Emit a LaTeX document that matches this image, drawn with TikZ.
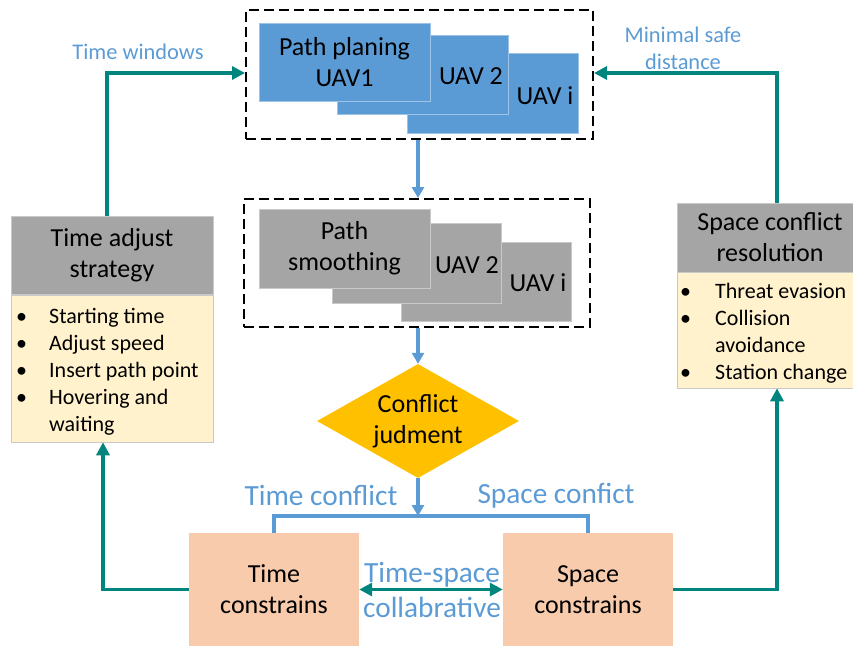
\documentclass[tikz,border=0pt]{standalone}
\usepackage{fontspec}
\setmainfont{Carlito}
\usetikzlibrary{shapes.geometric,calc,arrows.meta}
\definecolor{blueF}{HTML}{5B9BD5}
\definecolor{blueE}{HTML}{9DC3E6}
\definecolor{grayF}{HTML}{A5A5A5}
\definecolor{grayE}{HTML}{C9C9C9}
\definecolor{yellowF}{HTML}{FFF2CC}
\definecolor{peachF}{HTML}{F8CBAD}
\definecolor{goldF}{HTML}{FFC000}
\definecolor{tealC}{HTML}{00857E}
\definecolor{blueT}{HTML}{5B9BD5}
\begin{document}
\begin{tikzpicture}[x=1pt,y=-1pt,
  bluebox/.style={rectangle,fill=blueF,draw=blueE,line width=0.8pt,inner sep=0pt},
  graybox/.style={rectangle,fill=grayF,draw=grayE,line width=0.8pt,inner sep=0pt},
  yelbox/.style={rectangle,fill=yellowF,draw=grayE,line width=0.6pt,inner sep=0pt},
  peachbox/.style={rectangle,fill=peachF,draw=none,inner sep=0pt},
  dashbox/.style={rectangle,draw=black,line width=2pt,dash pattern=on 10pt off 5pt,inner sep=0pt},
  big/.style={font=\fontsize{26}{31}\selectfont,align=center,text=black},
  lbl/.style={font=\fontsize{26}{31}\selectfont,text=black,inner sep=0pt},
  bluelbl/.style={font=\fontsize{29.3}{35}\selectfont,text=blueT,align=center,inner sep=0pt},
  smallblue/.style={font=\fontsize{22.4}{27}\selectfont,text=blueT,align=center,inner sep=0pt},
  listtxt/.style={font=\fontsize{22}{27}\selectfont,align=left,inner sep=0pt,text=black},
  bluearrow/.style={draw=blueF,line width=3.2pt,-{Triangle[length=11pt,width=12pt]}},
  blueline/.style={draw=blueF,line width=3.2pt},
  tealarrow/.style={draw=tealC,line width=3.6pt,-{Triangle[length=13pt,width=13pt]}},
  tealdouble/.style={draw=tealC,line width=3.6pt,{Triangle[length=13pt,width=13pt]}-{Triangle[length=13pt,width=13pt]}}
]
\useasboundingbox (0,0) rectangle (853,645);
\clip (0,0) rectangle (853,645);

% top group
\node[dashbox,minimum width=347pt,minimum height=129pt] (d1) at (419.5,74.5) {};
\node[bluebox,minimum width=171pt,minimum height=80pt] (b3) at (492.5,93) {};
\node[bluebox,minimum width=171pt,minimum height=79pt] (b2) at (422.5,74.5) {};
\node[bluebox,minimum width=171pt,minimum height=78pt,big] (b1) at (344.5,62) {Path planing\\UAV1};
\node[lbl] (t2) at (471,76) {UAV 2};
\node[lbl] (t3) at (545,96) {UAV i};

% second group
\node[dashbox,minimum width=346pt,minimum height=128pt] (d2) at (417,263) {};
\node[graybox,minimum width=170pt,minimum height=79pt] (g3) at (486,281.5) {};
\node[graybox,minimum width=169pt,minimum height=80pt] (g2) at (416.5,263) {};
\node[graybox,minimum width=171pt,minimum height=79pt,big] (g1) at (344.5,248.5) {Path\\smoothing};
\node[lbl] (u2) at (467,265) {UAV 2};
\node[lbl] (u3) at (538,283) {UAV i};

% diamond
\node[diamond,fill=goldF,draw=none,inner sep=0pt,aspect=1.77,minimum width=202pt,minimum height=114pt,big] (dia) at (418,421) {Conflict\\judment};

% bottom boxes
\node[peachbox,minimum width=170pt,minimum height=113pt,big] (tc) at (274,589.5) {Time\\constrains};
\node[peachbox,minimum width=170pt,minimum height=113pt,big] (sc) at (588,589.5) {Space\\constrains};

% left box
\node[graybox,minimum width=202pt,minimum height=78pt,big] (ta) at (112,255) {Time adjust\\strategy};
\node[yelbox,minimum width=202pt,minimum height=147pt] (tl) at (112,368.5) {};
\node[listtxt,anchor=west] (tlist) at (16,372) {\makebox[33pt][l]{•}Starting time\\\makebox[33pt][l]{•}Adjust speed\\\makebox[33pt][l]{•}Insert path point\\\makebox[33pt][l]{•}Hovering and\\\hspace*{33pt}waiting};

% right box
\node[graybox,minimum width=186pt,minimum height=69pt,big] (sh) at (770,237.5) {Space conflict\\resolution};
\node[yelbox,minimum width=186pt,minimum height=116pt] (sl) at (770,330) {};
\node[listtxt,anchor=west] (slist) at (680,333) {\makebox[35pt][l]{•}Threat evasion\\\makebox[35pt][l]{•}Collision\\\hspace*{35pt}avoidance\\\makebox[35pt][l]{•}Station change};

% labels
\node[bluelbl] (lt) at (321,496) {Time conflict};
\node[bluelbl] (ls) at (556,496) {Space confict};
\node[bluelbl] (lc) at (432,590.5) {Time-space\\collabrative};
\node[smallblue] (lw) at (138,52) {Time windows};
\node[smallblue] (lm) at (683,48.5) {Minimal safe\\distance};

% connectors
\draw[bluearrow] (d1.south -| 418,0) -- (d2.north -| 418,0);
\draw[bluearrow] (d2.south -| 418,0) -- (dia.north);
\coordinate (j) at (418,516);
\draw[bluearrow] (dia.south) -- (j);
\draw[blueline] (tc.north) -- (tc.north |- j) -- (sc.north |- j) -- (sc.north);
\draw[tealdouble] (tc.east) -- (sc.west);
\draw[tealarrow] ($(ta.north)+(-5,0)$) |- ($(d1.west)+(0,-1.5)$);
\draw[tealarrow] ($(sh.north)+(7,0)$) |- ($(d1.east)+(0,-1.5)$);
\draw[tealarrow] (tc.west) -| ($(tl.south)+(-9,0)$);
\draw[tealarrow] (sc.east) -| ($(sl.south)+(7,0)$);
\end{tikzpicture}
\end{document}
